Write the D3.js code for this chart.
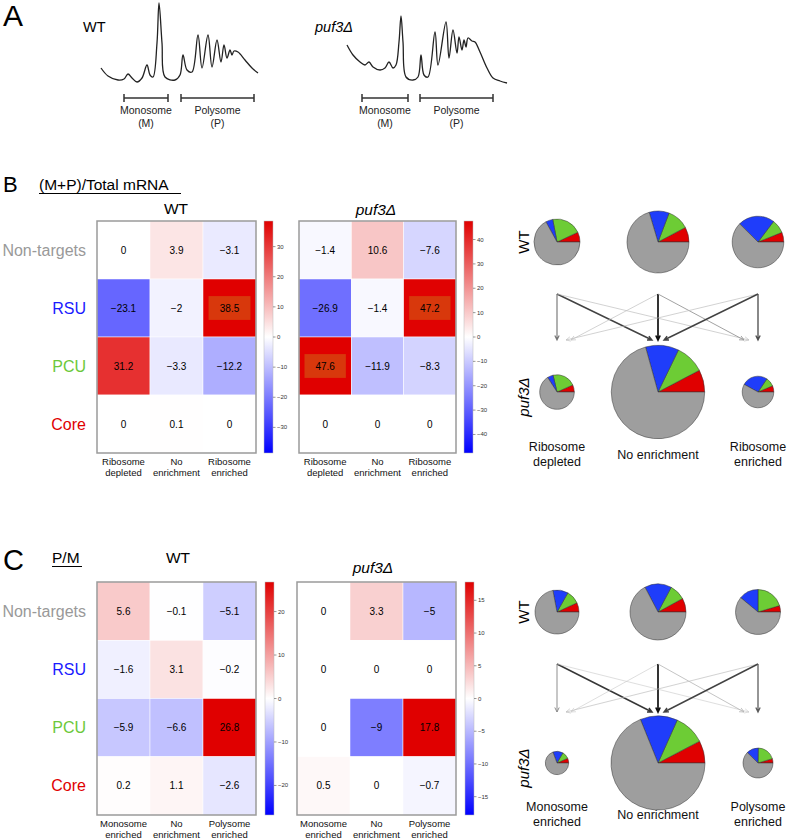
<!DOCTYPE html>
<html><head><meta charset="utf-8">
<script src="https://cdn.jsdelivr.net/npm/d3@7"></script>
<style>body{margin:0;background:#fff}svg{display:block}text{font-family:"Liberation Sans",Arial,Helvetica,sans-serif}</style>
</head><body><svg id="c" width="787" height="839"></svg>
<script>
// ---------------- DATA ----------------
// Panel A: polysome profiles (elution position, absorbance)
const traceWT = [[1,16],[8,8],[18,4],[24,5],[28,10],[32,6],[37,2],[42,6],[47,19],[50,9],[53,7],[57,41],[59,81],[62,41],[65,7],[75,4],[80,9],[83,29],[87,14],[92,12],[98,49],[102,16],[108,49],[112,17],[117,44],[121,22],[124,39],[127,26],[130,34],[132,29],[134,33],[138,32],[145,24],[152,16],[158,11]];
const tracePuf3 = [[2,39],[8,29],[15,22],[20,19],[24,22],[28,17],[35,14],[40,16],[44,22],[48,16],[51,19],[54,42],[56,68],[58,42],[61,7],[68,4],[73,7],[76,29],[79,9],[83,7],[90,52],[93,19],[101,62],[104,26],[108,54],[112,31],[114,47],[117,34],[119,44],[121,37],[123,46],[127,43],[130,42],[135,32],[142,16],[148,6],[155,3],[162,1]];
const fractionsWT = [["Monosome","(M)",24,68],["Polysome","(P)",81,154]];
const fractionsPuf3 = [["Monosome","(M)",17,63],["Polysome","(P)",75,148]];

// Heatmaps
const rowLabels = ["Non-targets","RSU","PCU","Core"];
const colLabelsB = [["Ribosome","depleted"],["No","enrichment"],["Ribosome","enriched"]];
const colLabelsC = [["Monosome","enriched"],["No","enrichment"],["Polysome","enriched"]];
const heatB_WT = [[0,3.9,-3.1],[-23.1,-2,38.5],[31.2,-3.3,-12.2],[0,0.1,0]];
const heatB_puf3 = [[-1.4,10.6,-7.6],[-26.9,-1.4,47.2],[47.6,-11.9,-8.3],[0,0,0]];
const heatC_WT = [[5.6,-0.1,-5.1],[-1.6,3.1,-0.2],[-5.9,-6.6,26.8],[0.2,1.1,-2.6]];
const heatC_puf3 = [[0,3.3,-5],[0,0,0],[0,-9,17.8],[0.5,0,-0.7]];
const markB_WT = [[0,0,0],[0,0,1],[0,0,0],[0,0,0]];
const markB_puf3 = [[0,0,0],[0,0,1],[1,0,0],[0,0,0]];
const markNone = [[0,0,0],[0,0,0],[0,0,0],[0,0,0]];
const ticksB_WT = [-30,-20,-10,0,10,20,30];
const ticksB_puf3 = [-40,-30,-20,-10,0,10,20,30,40];
const ticksC_WT = [-20,-10,0,10,20];
const ticksC_puf3 = [-15,-10,-5,0,5,10,15];

// Pies: fractions [Core, PCU, RSU, Non-targets], sizes (gene counts)
const pieB_WT = [[0.07,0.21,0.05,0.67],[0.078,0.114,0.104,0.704],[0.061,0.086,0.229,0.624]];
const pieB_puf3 = [[0.067,0.22,0.054,0.659],[0.077,0.101,0.115,0.707],[0.064,0.092,0.264,0.58]];
const sizeB_WT = [527,957,663];
const sizeB_puf3 = [298,2172,249];
const pieC_WT = [[0.069,0.099,0.112,0.72],[0.08,0.092,0.155,0.673],[0.046,0.204,0.14,0.61]];
const pieC_puf3 = [[0.067,0.1,0.14,0.693],[0.077,0.106,0.128,0.689],[0.047,0.2,0.13,0.623]];
const sizeC_WT = [482,781,504];
const sizeC_puf3 = [136,2200,224];
// transitions WT class (row) -> puf3 class (col), relative weight
const flowB = [[0.6,0.8,0.3],[0.3,1,0.45],[0.3,0.8,0.75]];
const flowC = [[0.5,0.85,0.25],[0.25,1,0.35],[0.3,0.8,0.7]];
const pieLabelsB = [["Ribosome","depleted"],["No enrichment"],["Ribosome","enriched"]];
const pieLabelsC = [["Monosome","enriched"],["No enrichment"],["Polysome","enriched"]];

// ---------------- DRAW ----------------
const svg = d3.select("#c");
svg.append("rect").attr("width",787).attr("height",839).attr("fill","#fff");
const RED="#e00000", BLUE="#0000ff";
const rowColors = ["#999999","#1a1aff","#6cc83a","#e00000"];
const sliceColors = ["#e00000","#6dcc35","#1f3dfa","#9e9e9e"];
const fmt = v => (v<0?"\u2212":"") + Math.abs(v);

function label(txt,x,y,size,opts={}){
  const t = svg.append("text").attr("x",x).attr("y",y).attr("font-size",size).text(txt)
    .attr("text-anchor",opts.anchor||"start").attr("fill",opts.fill||"#000");
  if(opts.italic) t.attr("font-style","italic");
  if(opts.rot) t.attr("transform",`rotate(-90,${x},${y})`);
  return t;
}

// Panel A
label("A",3,26,30);
function profile(data,fr,x0,name,nameX,nameItalic){
  const x = d3.scaleLinear().domain([0,160]).range([x0,x0+160]);
  const y = d3.scaleLinear().domain([0,84]).range([84,0]);
  svg.append("path").attr("d",d3.line().x(d=>x(d[0])).y(d=>y(d[1])).curve(d3.curveCatmullRom.alpha(0.5))(data))
    .attr("fill","none").attr("stroke","#222").attr("stroke-width",1.3);
  fr.forEach(f=>{
    const a=x(f[2]), b=x(f[3]), yy=98;
    svg.append("path").attr("d",`M${a},${yy}H${b}M${a},${yy-4}V${yy+4}M${b},${yy-4}V${yy+4}`)
      .attr("stroke","#333").attr("stroke-width",1.5).attr("fill","none");
    label(f[0],(a+b)/2,114,10.5,{anchor:"middle",fill:"#222"});
    label(f[1],(a+b)/2,127,10.5,{anchor:"middle",fill:"#222"});
  });
  label(name,nameX,32,14.5,{italic:nameItalic});
}
profile(traceWT,fractionsWT,100,"WT",83,false);
profile(tracePuf3,fractionsPuf3,345,"puf3\u0394",315,true);

// Heatmap
let gradId=0;
function heat(o){
  const x = d3.scaleBand().domain(d3.range(3)).range([o.x0,o.x1]);
  const y = d3.scaleBand().domain(d3.range(4)).range([o.y0,o.y1]);
  const col = d3.scaleLinear().domain([-o.max,0,o.max]).range([BLUE,"#ffffff",RED]);
  const g = svg.append("g");
  o.vals.forEach((row,i)=>row.forEach((v,j)=>{
    g.append("rect").attr("x",x(j)).attr("y",y(i)).attr("width",x.bandwidth()).attr("height",y.bandwidth())
      .attr("fill",col(v)).attr("stroke","#fff").attr("stroke-width",0.5);
    if(o.mark[i][j]){
      const w=x.bandwidth()*0.79,h=y.bandwidth()*0.41;
      g.append("rect").attr("x",x(j)+(x.bandwidth()-w)/2).attr("y",y(i)+(y.bandwidth()-h)/2)
        .attr("width",w).attr("height",h).attr("fill","#d8380c");
    }
    g.append("text").attr("x",x(j)+x.bandwidth()/2).attr("y",y(i)+y.bandwidth()/2+3.5)
      .attr("text-anchor","middle").attr("font-size",10).text(fmt(v));
  }));
  g.append("rect").attr("x",o.x0).attr("y",o.y0).attr("width",o.x1-o.x0).attr("height",o.y1-o.y0)
    .attr("fill","none").attr("stroke","#9a9a9a").attr("stroke-width",1.5);
  o.cols.forEach((c,j)=>c.forEach((t,k)=>{
    g.append("text").attr("x",x(j)+x.bandwidth()/2).attr("y",o.y1+12+k*11)
      .attr("text-anchor","middle").attr("font-size",9.5).attr("fill","#111").text(t);
  }));
  if(o.rows){
    rowLabels.forEach((r,i)=>{
      g.append("text").attr("x",o.x0-11).attr("y",y(i)+y.bandwidth()/2+5.5).attr("text-anchor","end")
        .attr("font-size",16).attr("fill",rowColors[i]).text(r);
    });
  }
  const tt = g.append("text").attr("x",o.titleX).attr("y",o.titleY).attr("text-anchor","middle")
    .attr("font-size",15.5).text(o.title);
  if(o.italic) tt.attr("font-style","italic");
  // colorbar
  const id="gr"+(gradId++);
  const grad = svg.append("defs").append("linearGradient").attr("id",id)
    .attr("x1",0).attr("y1",1).attr("x2",0).attr("y2",0);
  d3.range(0,1.0001,0.05).forEach(t=>grad.append("stop").attr("offset",t).attr("stop-color",col(-o.max+2*o.max*t)));
  g.append("rect").attr("x",o.cb).attr("y",o.y0).attr("width",9).attr("height",o.y1-o.y0)
    .attr("fill",`url(#${id})`).attr("stroke","#bbb").attr("stroke-width",0.5);
  const cy = d3.scaleLinear().domain([-o.max,o.max]).range([o.y1,o.y0]);
  o.ticks.forEach(t=>{
    g.append("line").attr("x1",o.cb+9).attr("x2",o.cb+11.5).attr("y1",cy(t)).attr("y2",cy(t))
      .attr("stroke","#555").attr("stroke-width",0.6);
    g.append("text").attr("x",o.cb+13).attr("y",cy(t)+2).attr("font-size",6).attr("fill","#333").text(fmt(t));
  });
}

// Panel B
label("B",3,192,22);
label("(M+P)/Total mRNA",39,190,15.5);
svg.append("line").attr("x1",39).attr("x2",181).attr("y1",193.5).attr("y2",193.5).attr("stroke","#000").attr("stroke-width",1);
heat({x0:97,x1:256,y0:221,y1:453,vals:heatB_WT,mark:markB_WT,max:38.5,ticks:ticksB_WT,cols:colLabelsB,rows:true,title:"WT",titleX:176,titleY:214,cb:264});
heat({x0:299,x1:456,y0:221,y1:453,vals:heatB_puf3,mark:markB_puf3,max:47.6,ticks:ticksB_puf3,cols:colLabelsB,rows:false,title:"puf3\u0394",italic:true,titleX:376,titleY:215,cb:464});

// Panel C
label("C",3,570,29);
label("P/M",52,563,15.5);
svg.append("line").attr("x1",52).attr("x2",82).attr("y1",566.5).attr("y2",566.5).attr("stroke","#000").attr("stroke-width",1);
heat({x0:97,x1:256,y0:582,y1:815,vals:heatC_WT,mark:markNone,max:26.8,ticks:ticksC_WT,cols:colLabelsC,rows:true,title:"WT",titleX:178,titleY:563,cb:265});
heat({x0:297,x1:456,y0:582,y1:815,vals:heatC_puf3,mark:markNone,max:17.8,ticks:ticksC_puf3,cols:colLabelsC,rows:false,title:"puf3\u0394",italic:true,titleX:373,titleY:573,cb:465});

// Pies
function pies(o){
  const cx = d3.scaleOrdinal().domain([0,1,2]).range([557,658,758]);
  const r = d3.scaleSqrt().domain([0,2200]).range([0,47]);
  const pie = d3.pie().sort(null).startAngle(Math.PI/2).endAngle(Math.PI/2-2*Math.PI);
  const g = svg.append("g");
  [[o.wt,o.wtN,o.yW],[o.pf,o.pfN,o.yP]].forEach(([fr,n,cy])=>{
    fr.forEach((f,i)=>{
      const arc = d3.arc().innerRadius(0).outerRadius(r(n[i]));
      const pg = g.append("g").attr("transform",`translate(${cx(i)},${cy})`);
      pg.selectAll("path").data(pie(f)).join("path").attr("d",arc)
        .attr("fill",(d,k)=>sliceColors[k]).attr("stroke","#333").attr("stroke-width",0.5);
    });
  });
  const wcol = d3.scaleLinear().domain([0.25,1]).range(["#c8c8c8","#111"]);
  const wwid = d3.scaleLinear().domain([0.25,1]).range([0.6,1.7]);
  o.flow.forEach((row,i)=>row.forEach((w,j)=>{
    const d=j-i;
    let off=0;
    if(d!==0){ off = (j===1)? -Math.sign(d)*6 : -Math.sign(d)*(Math.abs(d)===1?14:9); }
    const x1=cx(i), y1=o.a1, x2=cx(j)+off, y2=o.a2;
    const ang=Math.atan2(y2-y1,x2-x1), L=5, sp=0.45;
    g.append("path").attr("d",`M${x1},${y1}L${x2},${y2}M${x2-L*Math.cos(ang-sp)},${y2-L*Math.sin(ang-sp)}L${x2},${y2}L${x2-L*Math.cos(ang+sp)},${y2-L*Math.sin(ang+sp)}`)
      .attr("fill","none").attr("stroke",wcol(w)).attr("stroke-width",wwid(w));
  }));
  label("WT",529,o.yW,15,{anchor:"middle",rot:true});
  label("puf3\u0394",529,o.yP+5,15,{anchor:"middle",rot:true,italic:true});
  o.labels.forEach((ls,i)=>{
    ls.forEach((t,k)=>{
      const yy = ls.length===1 ? o.ly+8 : o.ly+k*15;
      label(t,cx(i),yy,12.5,{anchor:"middle",fill:"#111"});
    });
  });
}
pies({wt:pieB_WT,pf:pieB_puf3,wtN:sizeB_WT,pfN:sizeB_puf3,yW:242,yP:392,a1:294,a2:340,flow:flowB,labels:pieLabelsB,ly:451});
pies({wt:pieC_WT,pf:pieC_puf3,wtN:sizeC_WT,pfN:sizeC_puf3,yW:612,yP:763,a1:664,a2:712,flow:flowC,labels:pieLabelsC,ly:811});
</script></body></html>
